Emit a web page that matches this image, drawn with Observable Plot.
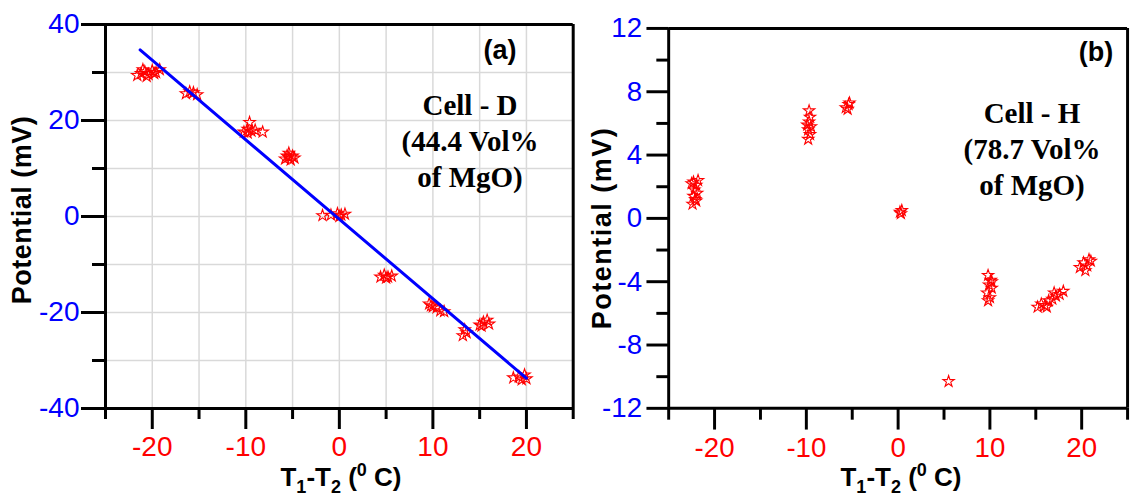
<!DOCTYPE html>
<html><head><meta charset="utf-8">
<script src="https://cdn.jsdelivr.net/npm/d3@7"></script>
<script src="https://cdn.jsdelivr.net/npm/@observablehq/plot@0.6"></script>
<style>
html,body{margin:0;padding:0;background:#fff;}
body{width:1133px;height:500px;overflow:hidden;position:relative;font-family:"Liberation Sans",Arial,sans-serif;color:#000;}
.panel{position:absolute;top:0;}
.ylab{position:absolute;font-weight:bold;font-size:27px;transform:translate(-50%,-50%) rotate(-90deg);white-space:nowrap;line-height:30px;}
.xlab{position:absolute;font-weight:bold;font-size:26px;transform:translateX(-50%);white-space:nowrap;line-height:30px;}
.xlab sub{font-size:18px;vertical-align:-7px;line-height:0;}
.xlab sup{font-size:18px;vertical-align:10px;line-height:0;}
.note{position:absolute;font-family:"Liberation Serif","Times New Roman",serif;font-weight:bold;font-size:29px;text-align:center;line-height:36px;transform:translateX(-50%);white-space:nowrap;}
.tag{position:absolute;font-weight:bold;font-size:27px;line-height:30px;transform:translateX(-50%);white-space:nowrap;}
</style>
</head><body>
<div id="pa" class="panel" style="left:0px"></div>
<div id="pb" class="panel" style="left:580px"></div>
<div class="ylab" style="left:22px;top:210px;letter-spacing:0.5px">Potential (mV)</div>
<div class="ylab" style="left:602px;top:228px;letter-spacing:1.5px">Potential (mV)</div>
<div class="xlab" style="left:341px;top:462px">T<sub>1</sub>-T<sub>2</sub> (<sup>0</sup> C)</div>
<div class="xlab" style="left:901px;top:462px">T<sub>1</sub>-T<sub>2</sub> (<sup>0</sup> C)</div>
<div class="tag" style="left:500px;top:35px">(a)</div>
<div class="tag" style="left:1096px;top:37px">(b)</div>
<div class="note" style="left:470px;top:87px">Cell - D<br>(44.4 Vol%<br>of MgO)</div>
<div class="note" style="left:1032px;top:95px">Cell - H<br>(78.7 Vol%<br>of MgO)</div>
<script>
// Panel (a): Cell - D, 44.4 Vol% MgO
const aX = [-21.6,-21.2,-20.8,-20.4,-20.0,-19.6,-19.2,-20.6,-19.8,-21.0,
            -16.4,-16.0,-15.6,-15.2,
            -10.2,-9.8,-9.4,-9.6,-9.0,-8.2,-9.8,
            -5.8,-5.4,-5.0,-5.6,-5.2,-4.8,-5.4,
            -1.8,-0.9,-0.2,0.2,0.6,0.0,
            4.4,4.8,5.2,5.6,5.0,
            9.6,10.0,10.4,10.8,11.2,9.8,
            13.2,13.6,13.4,
            15.0,15.4,15.8,16.0,15.2,
            18.6,19.2,19.8,20.0,19.5];
const aY = [29.4,29.8,30.2,29.6,30.4,30.0,30.6,29.2,29.8,30.6,
            25.6,26.0,25.8,25.4,
            17.6,18.2,17.8,19.6,18.0,17.6,17.4,
            12.0,13.2,12.6,12.6,11.8,12.2,12.4,
            0.2,0.3,0.6,0.3,0.5,0.0,
            -12.6,-12.2,-12.6,-12.4,-12.8,
            -18.2,-18.8,-19.0,-19.6,-19.8,-18.6,
            -24.8,-24.2,-23.6,
            -22.6,-22.0,-21.6,-22.4,-22.8,
            -33.6,-33.4,-33.0,-33.8,-34.0];
// linear fit line endpoints
const fitX = [-21.3, 20.0];
const fitY = [34.7, -33.7];

// Panel (b): Cell - H, 78.7 Vol% MgO
const bX = [-22.4,-22.0,-22.3,-21.9,-22.2,-22.0,-22.3,-21.8,-22.5,-22.1,
            -9.8,-9.6,-9.8,-9.5,-9.7,-9.6,-9.7,-9.9,
            -5.7,-5.4,-5.5,-5.3,
            0.2,0.4,0.3,
            5.5,
            9.8,10.1,9.9,10.2,9.7,10.0,9.8,10.2,
            15.2,15.6,16.0,16.4,16.8,17.2,17.6,18.0,16.2,17.0,
            19.8,20.2,20.6,21.0,20.4,20.8];
const bY = [0.9,1.1,1.4,1.6,1.8,2.1,2.3,2.4,2.2,1.2,
            5.0,5.3,5.6,5.8,6.1,6.4,6.8,5.9,
            7.0,7.2,6.9,7.3,
            0.4,0.5,0.3,
            -10.3,
            -3.6,-3.9,-4.2,-4.4,-4.7,-5.0,-5.2,-4.0,
            -5.6,-5.4,-5.5,-5.2,-5.1,-4.9,-4.8,-4.6,-5.6,-4.7,
            -3.1,-2.8,-3.0,-2.7,-3.3,-2.6];

const xMajor = [-20,-10,0,10,20];
const xMinor = [-25,-15,-5,5,15,25];
const aYMajor = [-40,-20,0,20,40];
const aYMinor = [-30,-10,10,30];
const aGridX = [-20,-15,-10,-5,0,5,10,15,20];
const aGridY = [-30,-20,-10,0,10,20,30];
const bYMajor = [-12,-8,-4,0,4,8,12];
const bYMinor = [-10,-6,-2,2,6,10];

const RED = "#ff0000", BLUE = "#0000ff";
const font = "Liberation Sans, Arial, sans-serif";
const fmt = d => (d < 0 ? "-" + Math.abs(d) : String(d));

const pa = Plot.plot({
  width: 580, height: 500,
  marginLeft: 105, marginRight: 7.3, marginTop: 24, marginBottom: 92,
  x: {domain: [-25, 25], axis: null},
  y: {domain: [-40, 40], axis: null},
  style: {background: "transparent", fontFamily: font, fontSize: "28px", overflow: "visible"},
  marks: [
    Plot.gridX(aGridX, {stroke: "#d9d9d9", strokeOpacity: 1, strokeWidth: 1.5}),
    Plot.gridY(aGridY, {stroke: "#d9d9d9", strokeOpacity: 1, strokeWidth: 1.5}),
    Plot.ruleX([-25, 25], {stroke: "black", strokeWidth: 3}),
    Plot.ruleY([-40, 40], {stroke: "black", strokeWidth: 3}),
    Plot.axisX({ticks: xMajor, tickSize: 21, tickPadding: 7, tickFormat: fmt, fontSize: 28, fill: RED, stroke: "black", strokeWidth: 3, label: null}),
    Plot.axisX({ticks: xMinor, tickSize: 11, tickFormat: () => "", stroke: "black", strokeWidth: 3, label: null}),
    Plot.axisY({ticks: aYMajor, tickSize: 24, tickPadding: 2, tickFormat: fmt, fontSize: 28, fill: BLUE, stroke: "black", strokeWidth: 3, label: null}),
    Plot.axisY({ticks: aYMinor, tickSize: 13, tickFormat: () => "", stroke: "black", strokeWidth: 3, label: null}),
    Plot.dot({length: aX.length}, {x: aX, y: aY, symbol: "star", r: 3.6, stroke: RED, fill: "none", strokeWidth: 1.1}),
    Plot.line({length: fitX.length}, {x: fitX, y: fitY, stroke: BLUE, strokeWidth: 3})
  ]
});
document.getElementById("pa").appendChild(pa);

const pb = Plot.plot({
  width: 560, height: 500,
  marginLeft: 89.3, marginRight: 6, marginTop: 28.3, marginBottom: 87,
  x: {domain: [-25, 25], axis: null},
  y: {domain: [-12, 12], axis: null},
  style: {background: "transparent", fontFamily: font, fontSize: "28px", overflow: "visible"},
  marks: [
    Plot.ruleX([-25, 25], {stroke: "black", strokeWidth: 3}),
    Plot.ruleY([-12, 12], {stroke: "black", strokeWidth: 3}),
    Plot.axisX({ticks: xMajor, tickSize: 22, tickPadding: 7, tickFormat: fmt, fontSize: 28, fill: RED, stroke: "black", strokeWidth: 3, label: null}),
    Plot.axisX({ticks: xMinor, tickSize: 12, tickFormat: () => "", stroke: "black", strokeWidth: 3, label: null}),
    Plot.axisY({ticks: bYMajor, tickSize: 22, tickPadding: 5, tickFormat: fmt, fontSize: 28, fill: BLUE, stroke: "black", strokeWidth: 3, label: null}),
    Plot.axisY({ticks: bYMinor, tickSize: 12, tickFormat: () => "", stroke: "black", strokeWidth: 3, label: null}),
    Plot.dot({length: bX.length}, {x: bX, y: bY, symbol: "star", r: 3.6, stroke: RED, fill: "none", strokeWidth: 1.1})
  ]
});
document.getElementById("pb").appendChild(pb);
</script>
</body></html>
